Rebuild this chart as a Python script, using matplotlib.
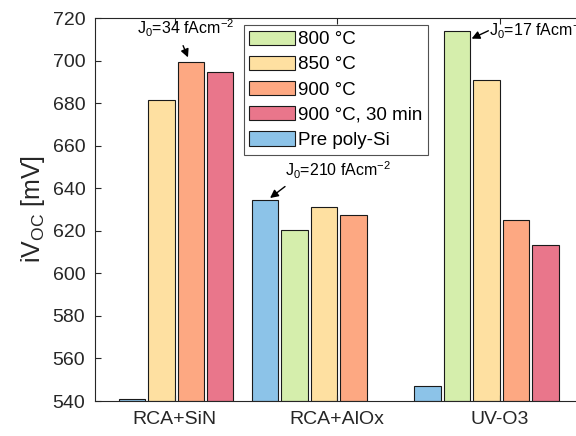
import numpy as np
import matplotlib
matplotlib.use("Agg")
import matplotlib.pyplot as plt

plt.rcParams['font.family'] = ['Liberation Sans', 'DejaVu Sans']
plt.rcParams['mathtext.fontset'] = 'custom'
plt.rcParams['mathtext.rm'] = 'Liberation Sans'
plt.rcParams['mathtext.it'] = 'Liberation Sans'

# Daten
groups = ['RCA+SiN', 'RCA+AlOx', 'UV-O3']
series = ['800 °C', '850 °C', '900 °C', '900 °C, 30 min', 'Pre poly-Si']
v800 = [np.nan, 620.5, 714.0]
v850 = [681.5, 631.0, 691.0]
v900 = [699.5, 627.5, 625.0]
v900_30 = [694.5, np.nan, 613.5]
pre = [540.8, 634.5, 547.0]
pre_slot = [1, 0, 0]   # bei RCA+SiN sitzt der blaue Balken im 800-°C-Platz

colors = ['#d5eeac', '#fee0a1', '#fda882', '#e9768b', '#8cc3e8']

fig = plt.figure(figsize=(5.76, 4.36), dpi=100)
ax = fig.add_axes([95 / 576, 35 / 436, 486 / 576, 383 / 436])

x = np.arange(1, len(groups) + 1)
step = 0.181
width = 0.163
offsets = (np.arange(5) - 2.45) * step

for vals, slot, col, lab in zip([v800, v850, v900, v900_30],
                                [1, 2, 3, 4], colors[:4], series[:4]):
    vals = np.array(vals)
    ok = ~np.isnan(vals)
    ax.bar(x[ok] + offsets[slot], vals[ok] - 540, width, bottom=540,
           color=col, edgecolor='#1a1a1a', linewidth=0.8, label=lab)

pre = np.array(pre)
ax.bar(x + offsets[pre_slot], pre - 540, width, bottom=540,
       color=colors[4], edgecolor='#1a1a1a', linewidth=0.8, label=series[4])

ax.set_xlim(0.51, 3.5)
ax.set_ylim(540, 720)
ax.set_yticks(np.arange(540, 721, 20))
ax.set_xticks(x)
ax.set_xticklabels(groups)
ax.tick_params(direction='in', length=4, labelsize=14, colors='#262626',
               top=True, pad=7)
for s in ax.spines.values():
    s.set_color('#262626')
    s.set_linewidth(0.8)
ax.set_ylabel('iV$_{\\rm OC}$ [mV]', fontsize=18, color='#262626', labelpad=4)

leg = ax.legend(loc='upper left', bbox_to_anchor=(0.306, 0.982), fontsize=13.5,
                frameon=True, fancybox=False, edgecolor='#262626',
                handlelength=2.45, handleheight=0.8, labelspacing=0.4,
                handletextpad=0.15, borderpad=0.3, borderaxespad=0)
leg.get_frame().set_linewidth(0.8)

# Annotationen
arrow = dict(arrowstyle='-|>', color='black', lw=1.0, mutation_scale=12,
             shrinkA=0, shrinkB=0)
ax.annotate('', xy=(1.082, 701.5), xytext=(1.052, 707), arrowprops=arrow)
ax.text(1.07, 715, 'J$_0$=34 fAcm$^{-2}$', fontsize=11.5, ha='center', va='center')
ax.annotate('', xy=(1.587, 635.4), xytext=(1.679, 640.8), arrowprops=arrow)
ax.text(1.682, 648.5, 'J$_0$=210 fAcm$^{-2}$', fontsize=11.5, ha='left', va='center')
ax.annotate('', xy=(2.827, 710.3), xytext=(2.93, 714), arrowprops=arrow)
ax.text(2.935, 714, 'J$_0$=17 fAcm$^{-2}$', fontsize=11.5, ha='left', va='center')

fig.savefig('out.png', dpi=100)
